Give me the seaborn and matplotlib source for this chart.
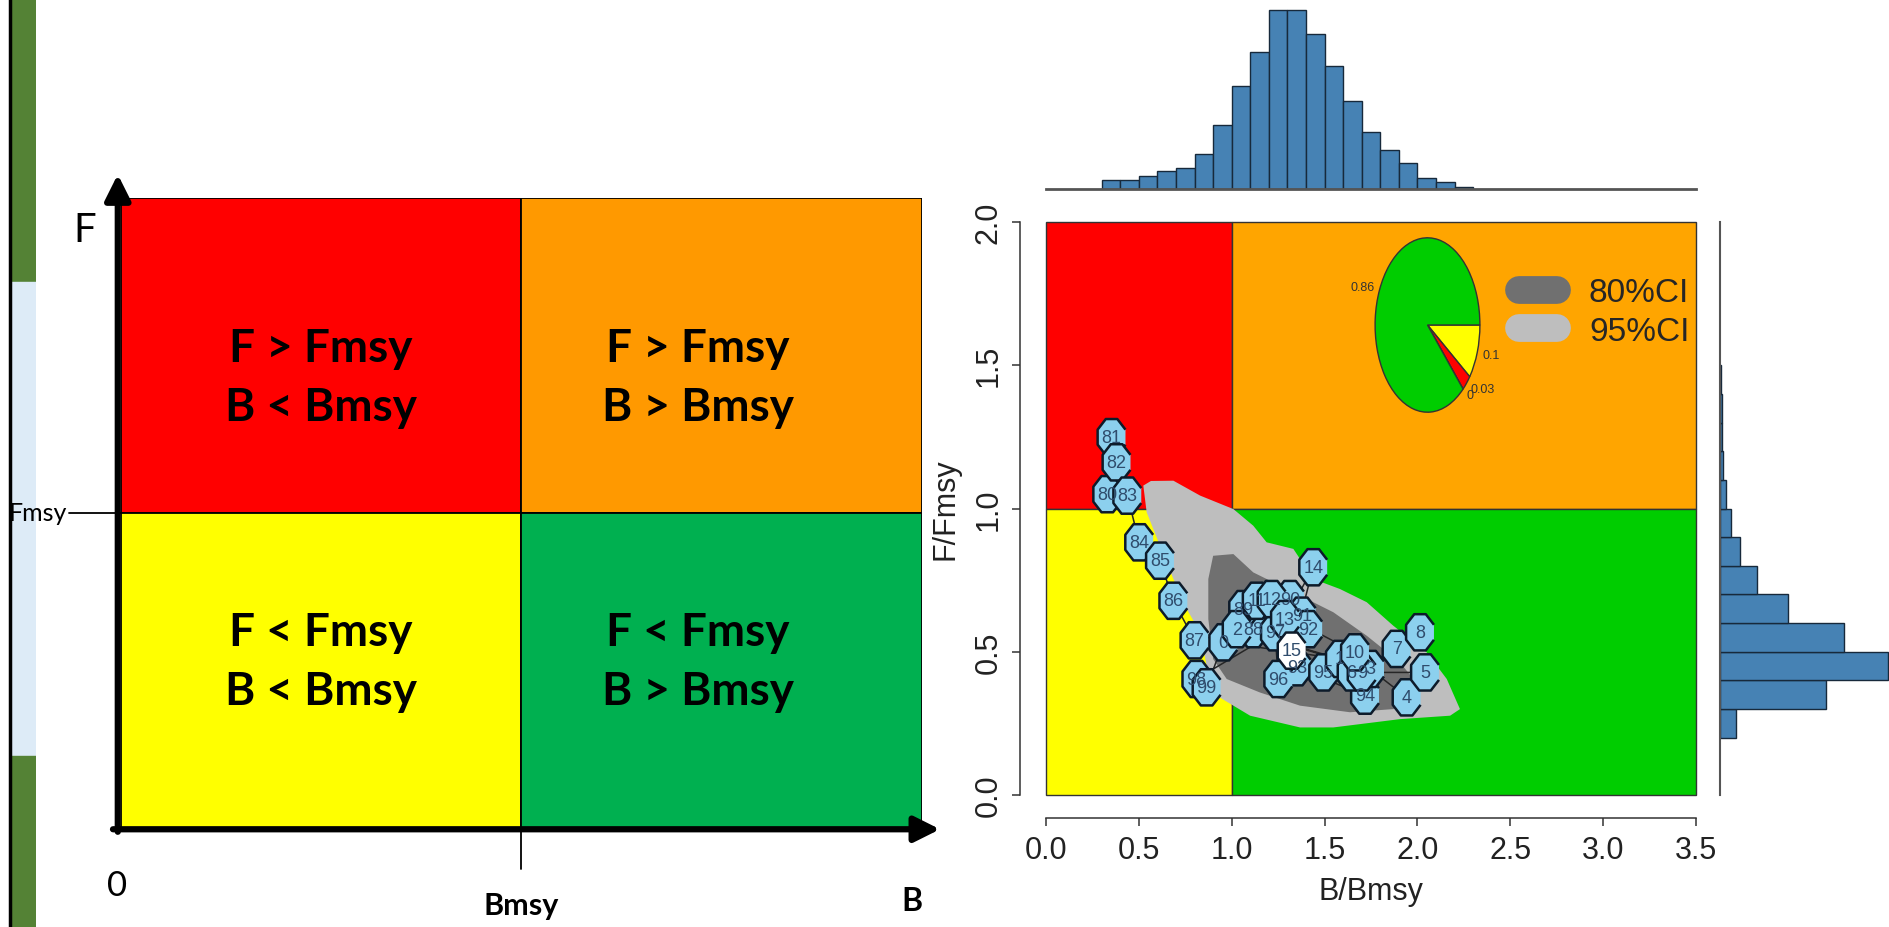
import numpy as np
import pandas as pd
import matplotlib.pyplot as plt
import seaborn as sns
from matplotlib.lines import Line2D
from matplotlib.path import Path
from matplotlib.markers import MarkerStyle

# ---------------- data ----------------
# left schematic quadrants (x0, y0 of each unit square)
quad_x = [0, 1, 0, 1]
quad_y = [1, 1, 0, 0]
quad_colors = ['#FF0000', '#FF9900', '#FFFF00', '#00B050']
quad_text = ['F > Fmsy\nB < Bmsy', 'F > Fmsy\nB > Bmsy',
             'F < Fmsy\nB < Bmsy', 'F < Fmsy\nB > Bmsy']
quad_text_x = [0.50, 1.44, 0.50, 1.44]
quad_text_y = [1.43, 1.43, 0.53, 0.53]

# kobe plot background zones
kobe_x0 = [0, 1, 0, 1]
kobe_w = [1, 2.5, 1, 2.5]
kobe_y0 = [1, 1, 0, 0]
kobe_colors = ['#FF0000', '#FFA500', '#FFFF00', '#00CD00']

# stock trajectory
years = ['80', '81', '82', '83', '84', '85', '86', '87', '88', '89',
         '90', '91', '92', '93', '94', '95', '96', '97', '98', '99',
         '0', '1', '2', '3', '4', '5', '6', '7', '8', '9',
         '10', '11', '12', '13', '14', '15']
b_ratio = [0.330, 0.353, 0.380, 0.438, 0.502, 0.614, 0.686, 0.800, 1.116, 1.062,
           1.314, 1.377, 1.412, 1.350, 1.718, 1.493, 1.251, 1.233, 0.810, 0.865,
           0.955, 1.583, 1.027, 1.745, 1.942, 2.041, 1.646, 1.888, 2.014, 1.700,
           1.664, 1.135, 1.215, 1.287, 1.439, 1.323]
f_ratio = [1.050, 1.249, 1.161, 1.045, 0.882, 0.818, 0.678, 0.540, 0.579, 0.649,
           0.684, 0.626, 0.579, 0.446, 0.347, 0.428, 0.405, 0.568, 0.405, 0.376,
           0.533, 0.475, 0.579, 0.440, 0.341, 0.428, 0.428, 0.510, 0.568, 0.428,
           0.498, 0.678, 0.684, 0.614, 0.795, 0.504]

# confidence regions
ci95_b = [0.524, 0.565, 0.686, 0.830, 1.009, 1.116, 1.188, 1.332, 1.439, 1.583,
          1.727, 1.870, 2.050, 2.158, 2.229, 2.176, 1.906, 1.547, 1.368, 1.099,
          0.919, 0.865, 0.830, 0.758, 0.686, 0.614, 0.542]
ci95_f = [1.080, 1.096, 1.097, 1.045, 0.998, 0.940, 0.882, 0.859, 0.754, 0.719,
          0.673, 0.591, 0.498, 0.405, 0.300, 0.277, 0.265, 0.236, 0.236, 0.277,
          0.347, 0.451, 0.568, 0.649, 0.754, 0.870, 0.987]
ci80_b = [0.900, 1.009, 1.116, 1.188, 1.368, 1.547, 1.727, 1.906, 1.978, 1.978,
          1.870, 1.637, 1.368, 1.152, 0.973, 0.900, 0.874, 0.874]
ci80_f = [0.835, 0.841, 0.777, 0.754, 0.696, 0.638, 0.556, 0.463, 0.405, 0.347,
          0.300, 0.289, 0.312, 0.358, 0.405, 0.475, 0.614, 0.754]

# marginal histograms
b_edges = [0.3, 0.4, 0.5, 0.6, 0.7, 0.8, 0.9, 1.0, 1.1, 1.2, 1.3,
           1.4, 1.5, 1.6, 1.7, 1.8, 1.9, 2.0, 2.1, 2.2, 2.3]
b_counts = [27, 27, 40, 55, 63, 105, 193, 308, 410, 537,
            537, 463, 368, 265, 170, 117, 78, 33, 22, 5]
f_edges = [0.2, 0.3, 0.4, 0.5, 0.6, 0.7, 0.8, 0.9, 1.0, 1.1, 1.2, 1.3, 1.4, 1.5]
f_counts = [48, 315, 500, 368, 202, 110, 60, 33, 18, 10, 7, 5, 3]

# pie of zone probabilities
pie_vals = [0.1, 0.03, 0.0, 0.86]
pie_labels = ['0.1', '0.03', '0', '0.86']
pie_colors = ['#FFFF00', '#FF0000', '#FFA500', '#00CD00']

ci_labels = ['80%CI', '95%CI']
ci_colors = ['#707070', '#BEBEBE']

# ---------------- style ----------------
sns.set_style('white')
plt.rcParams['font.family'] = ['Liberation Sans', 'DejaVu Sans']
LEFT_FONT = ['Lato', 'DejaVu Sans']

W, H = 1890, 928
fig = plt.figure(figsize=(W / 100, H / 100), dpi=100)


def px_axes(x0, y0, x1, y1):
    return fig.add_axes([x0 / W, 1 - y1 / H, (x1 - x0) / W, (y1 - y0) / H])


# slide decoration strip on the far left
ax_s = px_axes(8, 0, 36, 928)
ax_s.set_xlim(0, 1)
ax_s.set_ylim(928, 0)
ax_s.axhspan(0, 283, xmin=0.12, xmax=1, color='#548235')
ax_s.axhspan(283, 757, xmin=0.12, xmax=1, color='#DDEBF7')
ax_s.axhspan(757, 928, xmin=0.12, xmax=1, color='#548235')
ax_s.axvline(0.08, color='black', lw=2.5)
ax_s.axis('off')

# ---------------- left: schematic ----------------
ax_l = px_axes(121, 199, 922, 829)
ax_l.bar(quad_x, 1, width=1, bottom=quad_y, align='edge',
         color=quad_colors, edgecolor='black', linewidth=1.3)
ax_l.set_xlim(0, 2)
ax_l.set_ylim(0, 2)
ax_l.axis('off')
for tx, ty, t in zip(quad_text_x, quad_text_y, quad_text):
    ax_l.text(tx, ty, t, ha='center', va='center', fontsize=33, fontweight='bold',
              family=LEFT_FONT, linespacing=1.5, color='black')

arrow_kw = dict(arrowstyle='-|>,head_length=0.7,head_width=0.35', lw=4.5,
                color='black', shrinkA=0, shrinkB=0, mutation_scale=22)
ax_l.annotate('', xy=(-0.008, 2.075), xytext=(-0.008, -0.012),
              arrowprops=arrow_kw, annotation_clip=False)
ax_l.annotate('', xy=(2.045, -0.004), xytext=(-0.02, -0.004),
              arrowprops=arrow_kw, annotation_clip=False)
ax_l.plot([-0.13, 0], [1, 1], color='black', lw=1.3, clip_on=False)
ax_l.plot([1, 1], [0, -0.13], color='black', lw=1.3, clip_on=False)
ax_l.text(-0.135, 1, 'Fmsy', ha='right', va='center', fontsize=18,
          family=LEFT_FONT, color='black')
ax_l.text(-0.09, 1.9, 'F', ha='center', va='center', fontsize=29,
          family=LEFT_FONT, color='black')
ax_l.text(-0.01, -0.18, '0', ha='center', va='center', fontsize=25,
          family=LEFT_FONT, color='black')
ax_l.text(1.0, -0.245, 'Bmsy', ha='center', va='center', fontsize=22,
          fontweight='bold', family=LEFT_FONT, color='black')
ax_l.text(1.975, -0.23, 'B', ha='center', va='center', fontsize=23,
          fontweight='bold', family=LEFT_FONT, color='black')

# ---------------- right: kobe plot ----------------
ax = px_axes(1020, 200, 1722, 819)
ax.bar(kobe_x0, 1, width=kobe_w, bottom=kobe_y0, align='edge',
       color=kobe_colors, edgecolor='#333333', linewidth=1, zorder=1)
ax.fill(ci95_b, ci95_f, color=ci_colors[1], zorder=2, lw=0)
ax.fill(ci80_b, ci80_f, color=ci_colors[0], zorder=3, lw=0)

sns.lineplot(x=b_ratio, y=f_ratio, sort=False, estimator=None, color='#262626',
             lw=1.1, ax=ax, zorder=4)

# octagon stretched vertically like the original graphic
ang = np.deg2rad(np.arange(22.5, 360, 45))
octo = MarkerStyle(Path(np.column_stack([np.cos(ang), 1.3 * np.sin(ang)])))
pts = pd.DataFrame({'B': b_ratio, 'F': f_ratio,
                    'kind': ['past'] * (len(years) - 1) + ['last']})
sns.scatterplot(data=pts, x='B', y='F', hue='kind',
                palette={'past': '#8CD0EE', 'last': '#FFFFFF'},
                marker=octo, s=680, edgecolor='#0d1b2a', linewidth=1.8,
                legend=False, ax=ax, zorder=5)
for yr, b, f in zip(years, b_ratio, f_ratio):
    ax.text(b, f, yr, ha='center', va='center', fontsize=13, color='#2f4c6c', zorder=6)

ax.set_xlim(-0.14, 3.64)
ax.set_ylim(-0.08, 2.08)
ax.set_xticks([0, 0.5, 1, 1.5, 2, 2.5, 3, 3.5])
ax.set_yticks([0, 0.5, 1, 1.5, 2])
ax.set_xticklabels(['0.0', '0.5', '1.0', '1.5', '2.0', '2.5', '3.0', '3.5'])
ax.set_yticklabels(['0.0', '0.5', '1.0', '1.5', '2.0'], rotation=90, va='center')
ax.tick_params(axis='both', direction='out', length=6, width=1.1, color='#333333',
               labelsize=22, labelcolor='#222222', bottom=True, left=True, pad=6)
for side in ['top', 'right']:
    ax.spines[side].set_visible(False)
ax.spines['bottom'].set_bounds(0, 3.5)
ax.spines['left'].set_bounds(0, 2)
for side in ['bottom', 'left']:
    ax.spines[side].set_color('#333333')
    ax.spines[side].set_linewidth(1.1)
ax.set_xlabel('B/Bmsy', fontsize=22, color='#222222', labelpad=8)
ax.set_ylabel('F/Fmsy', fontsize=22, color='#222222', labelpad=9)
ax.grid(False)

handles = [Line2D([], [], color=c, lw=20, solid_capstyle='round') for c in ci_colors]
ax.legend(handles, ci_labels, loc='center left',
          bbox_to_anchor=(1519 / W, 1 - 313 / H), bbox_transform=fig.transFigure,
          frameon=False, borderpad=0, borderaxespad=0, handlelength=1.15,
          handletextpad=0.95, labelspacing=0.22, fontsize=24)

# pie inset
ax_p = px_axes(1362, 217, 1493, 435)
ax_p.pie(pie_vals, labels=pie_labels, colors=pie_colors, startangle=0,
         counterclock=False, labeldistance=1.1,
         wedgeprops=dict(edgecolor='#333333', linewidth=1),
         textprops=dict(fontsize=9, color='#333333'))
ax_p.set_aspect('auto')
ax_p.set_xlim(-1.25, 1.25)
ax_p.set_ylim(-1.25, 1.25)

# top histogram of B/Bmsy
b_mid = [(a + b) / 2 for a, b in zip(b_edges[:-1], b_edges[1:])]
ax_t = px_axes(1020, 8, 1722, 190)
sns.histplot(x=b_mid, weights=b_counts, bins=b_edges, color='#4682B4',
             edgecolor='#17293b', linewidth=1, alpha=1, ax=ax_t)
ax_t.set_xlim(-0.14, 3.64)
ax_t.set_ylim(0, 545)
ax_t.set_xticks([])
ax_t.set_yticks([])
ax_t.set_xlabel('')
ax_t.set_ylabel('')
for side in ['top', 'right', 'left']:
    ax_t.spines[side].set_visible(False)
ax_t.spines['bottom'].set_bounds(0, 3.5)
ax_t.spines['bottom'].set_color('#555555')
ax_t.spines['bottom'].set_linewidth(2)
ax_t.patch.set_alpha(0)

# right histogram of F/Fmsy
f_mid = [(a + b) / 2 for a, b in zip(f_edges[:-1], f_edges[1:])]
ax_r = px_axes(1720, 200, 1890, 819)
sns.histplot(y=f_mid, weights=f_counts, bins=f_edges, color='#4682B4',
             edgecolor='#17293b', linewidth=1, alpha=1, ax=ax_r)
ax_r.set_ylim(-0.08, 2.08)
ax_r.set_xlim(0, 505)
ax_r.set_xticks([])
ax_r.set_yticks([])
ax_r.set_xlabel('')
ax_r.set_ylabel('')
for side in ['top', 'right', 'bottom']:
    ax_r.spines[side].set_visible(False)
ax_r.spines['left'].set_bounds(0, 2)
ax_r.spines['left'].set_color('#555555')
ax_r.spines['left'].set_linewidth(1.5)
ax_r.patch.set_alpha(0)

fig.savefig('out.png', dpi=100, facecolor='white')
